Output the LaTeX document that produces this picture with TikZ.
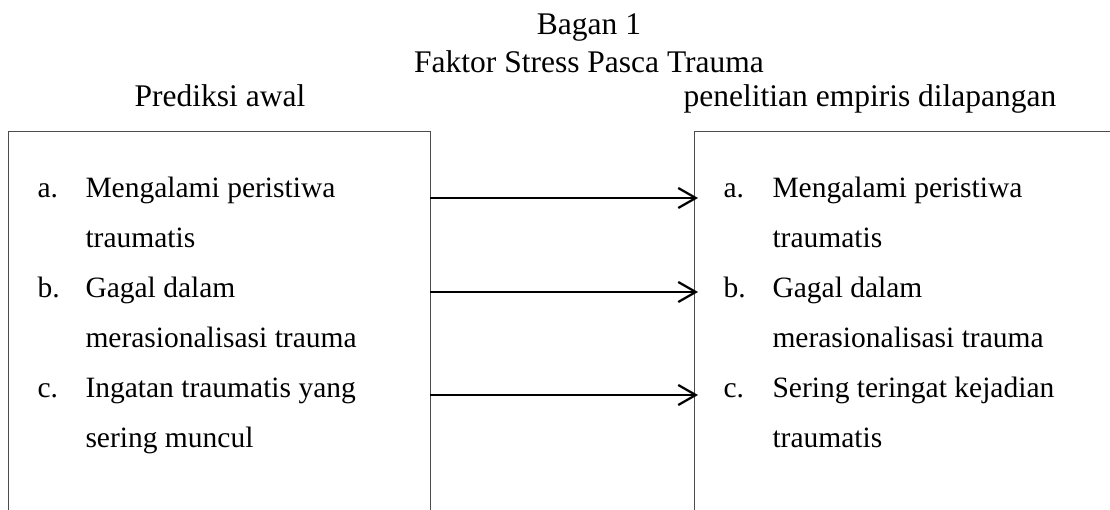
\documentclass[tikz,border=0pt]{standalone}
\usepackage{fontspec}
\setmainfont{Liberation Serif}
\usetikzlibrary{arrows.meta, positioning}

\begin{document}
\begin{tikzpicture}[x=0.4pt, y=-0.4pt,
  judul/.style={font=\fontsize{12.6}{14}\selectfont, anchor=base, inner sep=0pt},
  kotak/.style={draw=black!70, line width=0.5pt, anchor=north west,
                minimum width=168.8pt, minimum height=190pt, inner sep=0pt},
  butir/.style={font=\fontsize{11.8}{14}\selectfont, anchor=base west, inner sep=0pt},
  arr/.style={-{Straight Barb[length=7pt, width=8pt]}, line width=0.9pt}
]
\useasboundingbox (0,0) rectangle (1110,510);
\node[judul] (bagan) at (589, 35) {Bagan 1};
\node[judul] (faktor) at (589, 73) {Faktor Stress Pasca Trauma};
\node[judul] (awal) at (220,107) {Prediksi awal};
\node[judul] (empiris) at (870,107) {penelitian empiris dilapangan};
\node[kotak] (kiri)  at (8,131) {};
\node[kotak] (kanan) at (694,131) {};
\node[butir] (ka) at (37,198) {a.};
\node[butir] (ka1) at (85,198) {Mengalami peristiwa};
\node[butir] (ka2) at (85,248) {traumatis};
\node[butir] (kb) at (37,298) {b.};
\node[butir] (kb1) at (85,298) {Gagal dalam};
\node[butir] (kb2) at (85,348) {merasionalisasi trauma};
\node[butir] (kc) at (37,398) {c.};
\node[butir] (kc1) at (85,398) {Ingatan traumatis yang};
\node[butir] (kc2) at (85,448) {sering muncul};
\node[butir] (na) at (723,198) {a.};
\node[butir] (na1) at (772,198) {Mengalami peristiwa};
\node[butir] (na2) at (772,248) {traumatis};
\node[butir] (nb) at (723,298) {b.};
\node[butir] (nb1) at (772,298) {Gagal dalam};
\node[butir] (nb2) at (772,348) {merasionalisasi trauma};
\node[butir] (nc) at (723,398) {c.};
\node[butir] (nc1) at (772,398) {Sering teringat kejadian};
\node[butir] (nc2) at (772,448) {traumatis};
\coordinate (pa) at (430,198); \coordinate (qa) at (698,198);
\coordinate (pb) at (430,292); \coordinate (qb) at (698,292);
\coordinate (pc) at (430,395); \coordinate (qc) at (698,395);
\draw[arr] (pa) -- (qa);
\draw[arr] (pb) -- (qb);
\draw[arr] (pc) -- (qc);
\end{tikzpicture}
\end{document}
